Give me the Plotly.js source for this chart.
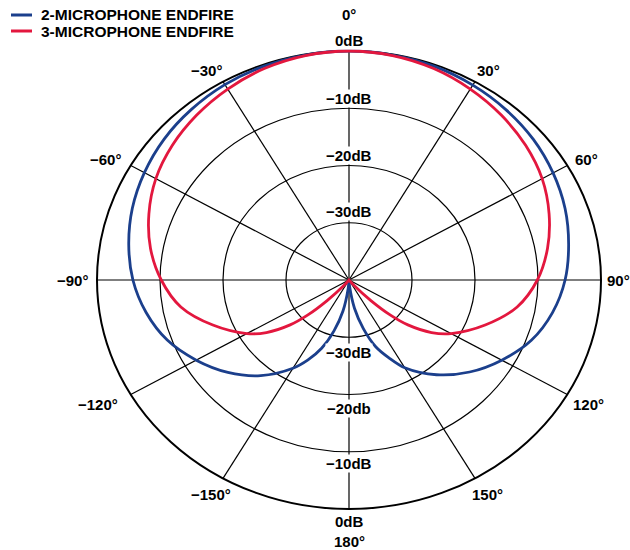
<!DOCTYPE html>
<html>
<head>
<meta charset="utf-8">
<script src="https://cdn.plot.ly/plotly-3.0.1.min.js"></script>
<style>html,body{margin:0;padding:0;background:#fff;}#chart{width:630px;height:550px;}</style>
</head>
<body>
<div id="chart"></div>
<script>
// ---------- data ----------
const seriesNames = ['2-MICROPHONE ENDFIRE', '3-MICROPHONE ENDFIRE'];

const blueAngles = [-180,-175,-170,-165,-160,-155,-150,-140,-130,-120,-110,-100,-90,-80,-70,-60,-50,-40,-30,-20,-10,
                    0,10,20,30,40,50,60,70,80,90,100,110,120,130,140,150,155,160,165,170,175,180];
const blueDb = [-40,-38.5,-34.5,-30.8,-27.3,-24.6,-22.2,-18.2,-14.9,-12.0,-9.3,-7.3,-5.7,-4.5,-3.4,-2.5,-1.7,-1.1,-0.6,-0.3,-0.1,
                0,-0.1,-0.3,-0.7,-1.2,-1.8,-2.6,-3.5,-4.6,-5.7,-7.2,-9.2,-12.0,-15.0,-18.4,-22.3,-25.0,-27.6,-31.2,-35.0,-38.8,-40];

const redAngles = [-180,-160,-145,-140,-136,-133,-130,-125,-120,-110,-100,-90,-80,-70,-60,-50,-40,-30,-20,-10,
                   0,10,20,30,40,50,60,70,80,90,100,110,120,125,130,133,136,140,145,160,180];
const redDb = [-40,-40,-40,-38.8,-35.0,-31.0,-27.8,-24.0,-21.3,-17.0,-12.9,-10.2,-8.0,-6.2,-4.6,-3.4,-2.4,-1.5,-0.7,-0.2,
               0,-0.2,-0.7,-1.5,-2.4,-3.4,-4.6,-6.2,-8.0,-10.1,-12.9,-17.0,-21.3,-24.0,-27.8,-31.0,-35.0,-38.8,-40,-40,-40];

const ringDb = [-30, -20, -10, 0];
const ringLabelsTop = ['−30dB', '−20dB', '−10dB', '0dB'];
const ringLabelsBottom = ['−30dB', '−20db', '−10dB', '0dB'];

const spokeAngles = [0,30,60,90,120,150,180,-150,-120,-90,-60,-30];
const spokeLabels = ['0°','30°','60°','90°','120°','150°','180°','−150°','−120°','−90°','−60°','−30°'];

const dbMin = -40, dbMax = 0;

// ---------- styling / placement ----------
const colors = ['#1b3f8c', '#e3173e'];
const fontFam = 'Liberation Sans, Arial, Helvetica, sans-serif';
const angleLabelShift = [[0,37],[13,11],[19,6.5],[17,0],[21,-9.5],[12,-16],[0,-32],[-12,-16],[-33,-9.5],[-25,0],[-25,6.5],[-17,11]];
const topLabelShift = [11, 10, 10, 11];
const bottomLabelShift = [-15, -14, -12, -12];
// legend placement in pixels (sample line x0,x1, text x, row centres y)
const legendPx = {x0:11, x1:32, tx:40, rows:[15, 31]};

const rad = a => a * Math.PI / 180;
const rNorm = db => (Math.max(db, dbMin) - dbMin) / (dbMax - dbMin);
const toXY = (angles, dbs) => ({
  x: angles.map((a, i) => rNorm(dbs[i]) * Math.sin(rad(a))),
  y: angles.map((a, i) => rNorm(dbs[i]) * Math.cos(rad(a)))
});

const b = toXY(blueAngles, blueDb);
const r = toXY(redAngles, redDb);

const traces = [
  {type:'scatter', mode:'lines', name:seriesNames[0], x:b.x, y:b.y,
   line:{color:colors[0], width:2.8, shape:'spline', smoothing:0.9}, hoverinfo:'skip'},
  {type:'scatter', mode:'lines', name:seriesNames[1], x:r.x, y:r.y,
   line:{color:colors[1], width:2.8, shape:'spline', smoothing:0.9}, hoverinfo:'skip'}
];

const shapes = [];
ringDb.forEach(db => {
  const rr = rNorm(db);
  shapes.push({type:'circle', xref:'x', yref:'y', x0:-rr, x1:rr, y0:-rr, y1:rr,
               line:{color:'#000', width: db === dbMax ? 2 : 1.2}, layer:'below'});
});
spokeAngles.forEach(a => {
  shapes.push({type:'line', xref:'x', yref:'y', x0:0, y0:0, x1:Math.sin(rad(a)), y1:Math.cos(rad(a)),
               line:{color:'#000', width:1.2}, layer:'below'});
});

const W = 630, H = 550, cx = 349, cy = 280, sx = 252, sy = 229;
const labelFont = {family:fontFam, size:15, color:'#000'};
const annotations = [];
ringDb.forEach((db, i) => {
  const rr = rNorm(db);
  annotations.push({x:0, y:rr, xref:'x', yref:'y', text:'<b>'+ringLabelsTop[i]+'</b>', showarrow:false,
    font:labelFont, bgcolor:'#fff', borderpad:0, yshift:topLabelShift[i]});
  annotations.push({x:0, y:-rr, xref:'x', yref:'y', text:'<b>'+ringLabelsBottom[i]+'</b>', showarrow:false,
    font:labelFont, bgcolor:'#fff', borderpad:0, yshift:bottomLabelShift[i]});
});
spokeAngles.forEach((a, i) => {
  annotations.push({x:Math.sin(rad(a)), y:Math.cos(rad(a)), xref:'x', yref:'y', text:'<b>'+spokeLabels[i]+'</b>',
    showarrow:false, font:labelFont, borderpad:0, xshift:angleLabelShift[i][0], yshift:angleLabelShift[i][1]});
});

// legend (drawn in paper coordinates)
seriesNames.forEach((name, i) => {
  const yp = 1 - legendPx.rows[i] / H;
  shapes.push({type:'line', xref:'paper', yref:'paper', x0:legendPx.x0 / W, x1:legendPx.x1 / W, y0:yp, y1:yp,
               line:{color:colors[i], width:3}});
  annotations.push({xref:'paper', yref:'paper', x:legendPx.tx / W, y:yp, xanchor:'left', yanchor:'middle',
    text:'<b>'+name+'</b>', showarrow:false, borderpad:0, font:{family:fontFam, size:15.5, color:'#000'}});
});

const layout = {
  width: W, height: H,
  margin: {l:0, r:0, t:0, b:0},
  paper_bgcolor:'#fff', plot_bgcolor:'#fff',
  xaxis: {range:[-cx/sx, (W-cx)/sx], visible:false, fixedrange:true},
  yaxis: {range:[-(H-cy)/sy, cy/sy], visible:false, fixedrange:true},
  showlegend: false,
  shapes: shapes,
  annotations: annotations
};

Plotly.newPlot('chart', traces, layout, {displayModeBar:false, staticPlot:true});
</script>
</body>
</html>
